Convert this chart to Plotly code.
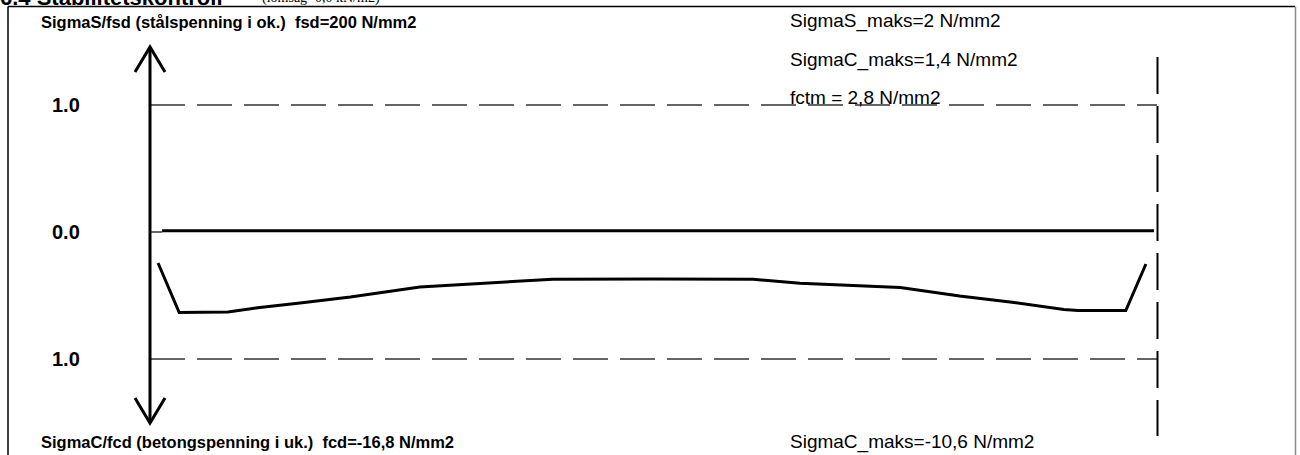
import plotly.graph_objects as go

# ---------------- data ----------------
# position along the beam (% of span) and normalised stresses
beam_pos = [0.8, 2.9, 7.75, 10.9, 14.9, 19.9, 26.8, 34.8, 40.0, 49.95,
            59.9, 64.55, 74.5, 80.4, 85.4, 90.75, 92.15, 96.9, 98.9]
sigmaC_ratio = [-0.244, -0.634, -0.630, -0.594, -0.559, -0.512, -0.433, -0.399,
                -0.372, -0.370, -0.372, -0.404, -0.437, -0.504, -0.551, -0.610,
                -0.618, -0.618, -0.252]
steel_pos = [1.2, 99.7]
sigmaS_ratio = [0.01, 0.01]
limit_levels = [1.0, -1.0]
limit_span = [0.0, 100.0]
tick_vals = [1.0, 0.0, -1.0]
tick_text = ["1.0", "0.0", "1.0"]

title_top = "SigmaS/fsd (stålspenning i ok.)  fsd=200 N/mm2"
title_bot = "SigmaC/fcd (betongspenning i uk.)  fcd=-16,8 N/mm2"
info_top = ["SigmaS_maks=2 N/mm2", "SigmaC_maks=1,4 N/mm2", "fctm = 2,8 N/mm2"]
info_bot = "SigmaC_maks=-10,6 N/mm2"

# ---------------- geometry (pixels) ----------------
W, H = 1300, 455
X0PX, XSC = 150.0, 10.07       # px of x=0, px per unit
Y0PX, YSC = 232.0, 127.0       # px of y=0, px per unit


def px2x(px):
    return (px - X0PX) / XSC


def py2y(py):
    return (Y0PX - py) / YSC


def pxp(px):
    return px / W


def pyp(py):
    return 1 - py / H


fig = go.Figure()

# limit dashed lines
for lv in limit_levels:
    fig.add_trace(go.Scatter(x=limit_span, y=[lv, lv], mode="lines",
                             line=dict(color="#333333", width=1.5, dash="35px,12px"),
                             hoverinfo="skip", showlegend=False))
# thin x axis
fig.add_trace(go.Scatter(x=[0, steel_pos[0]], y=[0, 0], mode="lines",
                         line=dict(color="black", width=1.2),
                         hoverinfo="skip", showlegend=False))
# steel stress
fig.add_trace(go.Scatter(x=steel_pos, y=sigmaS_ratio, mode="lines",
                         line=dict(color="black", width=3),
                         hoverinfo="skip", showlegend=False))
# concrete stress
fig.add_trace(go.Scatter(x=beam_pos, y=sigmaC_ratio, mode="lines",
                         line=dict(color="black", width=3),
                         hoverinfo="skip", showlegend=False))

shapes = []
# vertical axis with arrows
top_apex, bot_apex = 47, 423
shapes.append(dict(type="line", xref="x", yref="y", x0=0, x1=0,
                   y0=py2y(top_apex), y1=py2y(bot_apex),
                   line=dict(color="black", width=3)))
shapes.append(dict(type="path", xref="x", yref="y",
                   path=f"M {px2x(135)} {py2y(72)} L 0 {py2y(top_apex)} L {px2x(165)} {py2y(72)}",
                   line=dict(color="black", width=3)))
shapes.append(dict(type="path", xref="x", yref="y",
                   path=f"M {px2x(135)} {py2y(398)} L 0 {py2y(bot_apex)} L {px2x(165)} {py2y(398)}",
                   line=dict(color="black", width=3)))
# right vertical dashed end line
shapes.append(dict(type="line", xref="x", yref="y", x0=limit_span[1] + 0.05, x1=limit_span[1] + 0.05,
                   y0=py2y(57), y1=py2y(436),
                   line=dict(color="black", width=2, dash="37px,12px")))
# frame of the picture
shapes.append(dict(type="line", xref="paper", yref="paper", x0=pxp(8), x1=pxp(1295),
                   y0=pyp(6.5), y1=pyp(6.5), line=dict(color="black", width=1.5)))
shapes.append(dict(type="line", xref="paper", yref="paper", x0=pxp(8), x1=pxp(8),
                   y0=pyp(6.5), y1=0, line=dict(color="black", width=1.5)))
shapes.append(dict(type="line", xref="paper", yref="paper", x0=pxp(1295.5), x1=pxp(1295.5),
                   y0=pyp(6.5), y1=0, line=dict(color="#8a8a8a", width=1.5)))

ann = []
BOLD = "Liberation Sans"
REG = "Liberation Sans"


def txt(s, px, py, fam, size, bold=False, xanchor="left"):
    ann.append(dict(text=f"<b>{s}</b>" if bold else s, xref="paper", yref="paper",
                    x=pxp(px), y=pyp(py), xanchor=xanchor, yanchor="middle",
                    showarrow=False, font=dict(family=fam, size=size, color="black")))


# cut-off heading of the page
txt("6.4 Stabilitetskontroll", -2, -3, "Liberation Sans", 22, bold=True)
txt("(lomsag=0,0 kN/m2)", 260, -2, "Liberation Serif", 14)

txt(title_top, 39, 22, BOLD, 16.5, bold=True)
txt(title_bot, 39, 442, BOLD, 16.5, bold=True)
for s, py in zip(info_top, [21, 60, 97]):
    txt(s, 788, py, REG, 19)
txt(info_bot, 788, 442, REG, 19)
for v, t in zip(tick_vals, tick_text):
    txt(t, 50, Y0PX - v * YSC, BOLD, 20, bold=True)

fig.update_layout(
    width=W, height=H, autosize=False,
    margin=dict(l=0, r=0, t=0, b=0),
    paper_bgcolor="white", plot_bgcolor="white",
    xaxis=dict(visible=False, range=[px2x(0), px2x(W)], fixedrange=True),
    yaxis=dict(visible=False, range=[py2y(H), py2y(0)], fixedrange=True),
    shapes=shapes, annotations=ann, showlegend=False,
)

fig.write_html("out.html", config={"displayModeBar": False},
               post_script="document.body.style.margin='0';document.body.style.overflow='hidden';")
